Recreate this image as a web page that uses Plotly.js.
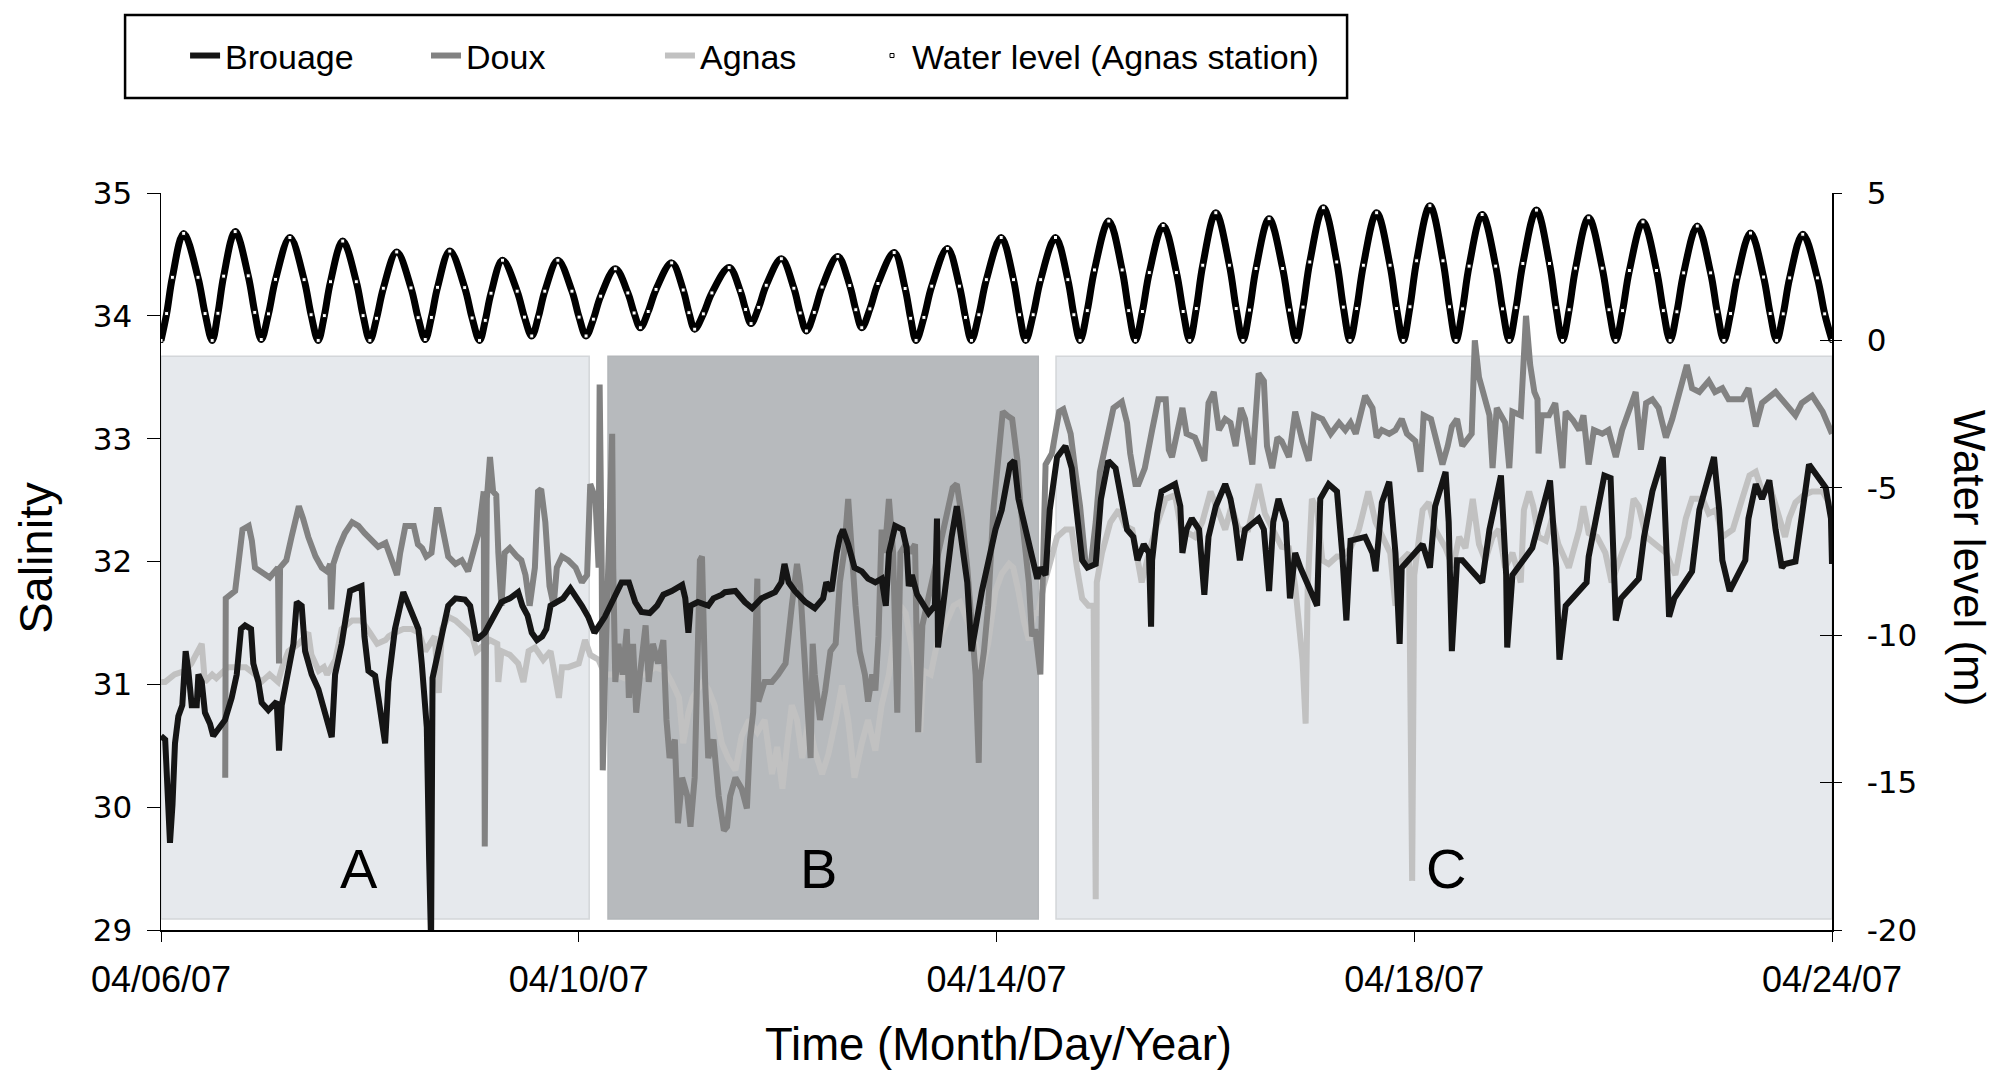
<!DOCTYPE html>
<html>
<head>
<meta charset="utf-8">
<script src="https://cdn.plot.ly/plotly-3.0.1.min.js"></script>
<style>
html,body{margin:0;padding:0;background:#fff;}
#chart{width:1998px;height:1071px;}
</style>
</head>
<body>
<div id="chart"></div>
<script>
// Salinity records, [days since 04/06/07, salinity]
const brouage = [
[0,30.58],[0.04,30.55],[0.086,29.71],[0.11,30.02],[0.134,30.52],[0.166,30.74],[0.204,30.83],[0.224,31.08],[0.236,31.27],[0.262,31.11],
[0.294,30.83],[0.342,30.83],[0.358,31.08],[0.39,31.02],[0.421,30.77],[0.469,30.68],[0.5,30.58],[0.613,30.71],[0.677,30.89],[0.725,31.08],
[0.766,31.45],[0.805,31.48],[0.862,31.45],[0.884,31.17],[0.932,31.02],[0.964,30.85],[1.028,30.79],[1.108,30.86],[1.13,30.46],[1.156,30.83],
[1.22,31.14],[1.268,31.33],[1.3,31.67],[1.347,31.64],[1.38,31.27],[1.443,31.08],[1.507,30.96],[1.571,30.77],[1.635,30.57],[1.667,31.08],
[1.73,31.33],[1.81,31.76],[1.92,31.8],[1.948,31.39],[1.986,31.11],[2.05,31.07],[2.146,30.52],[2.178,31.02],[2.24,31.45],[2.32,31.75],
[2.4,31.58],[2.465,31.45],[2.497,31.17],[2.545,30.65],[2.567,29.59],[2.586,28.9],[2.6,31.05],[2.69,31.41],[2.75,31.64],[2.82,31.7],
[2.91,31.69],[2.96,31.64],[2.99,31.52],[3.02,31.36],[3.1,31.42],[3.21,31.61],[3.26,31.67],[3.34,31.7],[3.42,31.75],[3.46,31.64],
[3.51,31.56],[3.55,31.42],[3.6,31.36],[3.65,31.39],[3.69,31.45],[3.73,31.64],[3.79,31.67],[3.85,31.7],[3.92,31.78],[3.97,31.72],
[4.03,31.64],[4.09,31.55],[4.15,31.42],[4.25,31.55],[4.36,31.73],[4.41,31.83],[4.48,31.83],[4.54,31.67],[4.6,31.59],[4.68,31.58],
[4.75,31.64],[4.81,31.73],[4.89,31.76],[4.99,31.81],[5.02,31.7],[5.05,31.42],[5.07,31.64],[5.14,31.67],[5.24,31.64],[5.29,31.7],
[5.37,31.73],[5.4,31.75],[5.5,31.76],[5.59,31.67],[5.66,31.62],[5.75,31.7],[5.88,31.75],[5.94,31.83],[5.97,31.98],[6.01,31.83],
[6.07,31.76],[6.17,31.67],[6.26,31.62],[6.34,31.7],[6.37,31.83],[6.42,31.76],[6.47,32.07],[6.5,32.2],[6.53,32.26],[6.58,32.14],
[6.64,31.95],[6.71,31.92],[6.77,31.86],[6.84,31.83],[6.9,31.86],[6.94,31.64],[6.97,32.07],[7.03,32.29],[7.1,32.26],[7.14,32.11],
[7.16,31.8],[7.19,31.89],[7.24,31.73],[7.29,31.67],[7.35,31.58],[7.41,31.64],[7.43,32.35],[7.44,31.3],[7.51,31.8],[7.57,32.2],
[7.62,32.45],[7.67,32.14],[7.72,31.83],[7.76,31.27],[7.86,31.76],[7.99,32.26],[8.05,32.42],[8.13,32.79],[8.17,32.82],[8.21,32.51],
[8.28,32.26],[8.34,32.07],[8.39,31.86],[8.42,31.95],[8.47,31.89],[8.51,32.42],[8.58,32.85],[8.66,32.94],[8.72,32.76],[8.77,32.39],
[8.82,32.01],[8.87,31.95],[8.95,31.98],[9.0,32.51],[9.07,32.82],[9.14,32.76],[9.2,32.51],[9.25,32.26],[9.31,32.2],[9.35,32.01],
[9.41,32.14],[9.46,32.07],[9.48,31.47],[9.49,32.01],[9.54,32.39],[9.58,32.57],[9.71,32.63],[9.76,32.45],[9.78,32.07],[9.82,32.26],
[9.87,32.35],[9.94,32.26],[9.99,31.73],[10.03,32.2],[10.1,32.45],[10.19,32.63],[10.24,32.51],[10.29,32.29],[10.33,32.01],[10.38,32.26],
[10.51,32.35],[10.56,32.26],[10.61,31.76],[10.65,32.32],[10.7,32.51],[10.77,32.32],[10.81,31.7],[10.86,32.07],[10.91,31.95],[11.07,31.64],
[11.1,32.51],[11.18,32.63],[11.26,32.57],[11.31,32.07],[11.35,31.52],[11.39,32.17],[11.53,32.2],[11.6,32.07],[11.63,31.92],[11.69,32.48],
[11.76,32.65],[11.82,32.07],[11.86,31.33],[11.88,31.95],[12.08,32.14],[12.15,31.95],[12.2,32.45],[12.3,32.73],[12.33,32.32],[12.36,31.27],
[12.41,32.01],[12.46,32.01],[12.65,31.83],[12.72,32.26],[12.83,32.7],[12.88,31.89],[12.89,31.3],[12.94,31.89],[13.13,32.11],[13.19,32.32],
[13.3,32.66],[13.36,31.95],[13.39,31.2],[13.45,31.64],[13.65,31.83],[13.67,32.04],[13.74,32.35],[13.82,32.7],[13.88,32.68],[13.91,31.76],
[13.93,31.52],[13.98,31.7],[14.15,31.86],[14.2,32.2],[14.28,32.57],[14.38,32.85],[14.41,32.26],[14.44,31.55],[14.49,31.7],[14.66,31.92],
[14.73,32.42],[14.87,32.85],[14.92,32.42],[14.95,32.01],[15.02,31.76],[15.17,32.01],[15.2,32.35],[15.27,32.63],[15.33,32.51],[15.4,32.66],
[15.46,32.26],[15.52,31.95],[15.55,31.98],[15.65,32.0],[15.78,32.79],[15.86,32.7],[15.94,32.6],[15.99,32.35],[16.0,31.98]
];

const doux = [
[0.615,30.24],[0.62,31.7],[0.71,31.76],[0.74,31.95],[0.78,32.26],[0.84,32.29],[0.87,32.17],[0.9,31.95],[0.96,31.92],[1.04,31.87],
[1.12,31.95],[1.13,31.17],[1.14,31.95],[1.2,32.01],[1.25,32.2],[1.32,32.45],[1.36,32.35],[1.41,32.2],[1.48,32.04],[1.54,31.95],
[1.59,31.92],[1.62,31.98],[1.63,31.61],[1.65,31.98],[1.7,32.11],[1.76,32.23],[1.83,32.32],[1.89,32.29],[1.95,32.23],[2.02,32.17],
[2.08,32.12],[2.15,32.15],[2.18,32.07],[2.23,31.95],[2.26,31.89],[2.29,32.07],[2.34,32.29],[2.42,32.29],[2.46,32.14],[2.5,32.11],
[2.54,32.04],[2.59,32.07],[2.64,32.42],[2.66,32.42],[2.7,32.23],[2.75,32.04],[2.82,31.98],[2.88,32.01],[2.94,31.92],[2.99,32.07],
[3.04,32.23],[3.09,32.57],[3.1,29.68],[3.12,32.51],[3.15,32.85],[3.18,32.57],[3.21,32.54],[3.23,32.07],[3.26,31.64],[3.29,32.07],
[3.34,32.11],[3.41,32.04],[3.45,32.01],[3.49,31.89],[3.53,31.64],[3.58,31.95],[3.61,32.57],[3.64,32.59],[3.68,32.32],[3.72,31.8],
[3.76,31.64],[3.79,31.95],[3.84,32.04],[3.9,32.01],[3.97,31.95],[4.03,31.83],[4.08,31.89],[4.11,32.63],[4.16,32.51],[4.19,31.95],
[4.2,33.44],[4.22,31.95],[4.23,30.3],[4.25,31.02],[4.28,31.9],[4.32,33.04],[4.33,31.95],[4.35,31.02],[4.38,31.33],[4.42,31.08],
[4.46,31.45],[4.48,30.89],[4.52,31.33],[4.55,30.77],[4.59,31.11],[4.64,31.48],[4.67,31.02],[4.71,31.33],[4.76,31.17],[4.81,31.36],
[4.84,30.71],[4.87,30.4],[4.92,30.55],[4.95,29.87],[4.99,30.24],[5.04,30.09],[5.07,29.84],[5.11,30.24],[5.16,32.01],[5.18,32.04],
[5.21,31.02],[5.24,30.4],[5.29,30.55],[5.34,30.09],[5.39,29.81],[5.42,29.84],[5.45,30.09],[5.5,30.24],[5.56,30.15],[5.61,29.99],
[5.64,30.55],[5.67,30.77],[5.71,31.86],[5.72,30.86],[5.78,31.02],[5.85,31.02],[5.91,31.08],[5.98,31.17],[6.04,31.64],[6.09,31.98],
[6.12,31.8],[6.15,31.33],[6.18,30.86],[6.22,30.4],[6.24,31.33],[6.26,31.08],[6.31,30.71],[6.36,30.95],[6.41,31.27],[6.46,31.33],
[6.5,31.83],[6.54,32.07],[6.58,32.51],[6.61,32.07],[6.65,31.64],[6.69,31.27],[6.74,31.08],[6.77,30.86],[6.81,31.08],[6.84,30.95],
[6.87,31.39],[6.9,32.26],[6.93,32.07],[6.97,32.51],[7.01,32.07],[7.05,30.77],[7.08,32.07],[7.13,32.14],[7.17,32.07],[7.22,32.14],
[7.25,30.61],[7.29,31.48],[7.33,31.64],[7.38,31.83],[7.45,32.07],[7.52,32.35],[7.58,32.6],[7.62,32.63],[7.67,32.35],[7.72,31.95],
[7.76,31.48],[7.8,31.08],[7.83,30.36],[7.84,31.02],[7.88,31.27],[7.92,31.64],[7.97,32.42],[8.02,32.88],[8.06,33.22],[8.1,33.19],
[8.15,33.16],[8.2,32.82],[8.23,32.45],[8.28,32.07],[8.31,31.83],[8.34,31.39],[8.37,31.45],[8.42,31.08],[8.45,32.07],[8.47,32.79],
[8.53,32.88],[8.6,33.22],[8.64,33.24],[8.71,33.04],[8.76,32.7],[8.8,32.45],[8.85,32.01],[8.9,31.95],[8.95,32.32],[8.99,32.73],
[9.06,33.01],[9.12,33.25],[9.2,33.3],[9.25,33.13],[9.28,32.88],[9.33,32.63],[9.36,32.63],[9.42,32.76],[9.49,33.07],[9.55,33.32],
[9.62,33.32],[9.65,32.91],[9.68,32.85],[9.73,33.04],[9.78,33.25],[9.82,33.04],[9.9,33.01],[9.99,32.82],[10.03,33.29],[10.08,33.38],
[10.13,33.07],[10.19,33.16],[10.24,33.13],[10.29,32.94],[10.34,33.25],[10.38,33.16],[10.45,32.79],[10.51,33.53],[10.56,33.47],[10.59,32.94],
[10.64,32.76],[10.69,33.01],[10.73,32.98],[10.8,32.85],[10.86,33.22],[10.93,32.98],[10.99,32.82],[11.04,33.19],[11.12,33.16],[11.2,33.04],
[11.28,33.13],[11.34,33.07],[11.39,33.13],[11.44,33.04],[11.53,33.35],[11.6,33.25],[11.64,33.01],[11.69,33.07],[11.76,33.04],[11.82,33.07],
[11.88,33.16],[11.93,33.04],[12.01,32.98],[12.06,32.73],[12.09,33.19],[12.16,33.16],[12.2,33.01],[12.27,32.79],[12.32,32.94],[12.36,33.1],
[12.41,33.16],[12.46,32.94],[12.55,33.04],[12.58,33.8],[12.62,33.5],[12.67,33.32],[12.72,33.19],[12.75,32.76],[12.79,33.25],[12.87,33.13],
[12.91,32.76],[12.94,33.22],[13.02,33.19],[13.07,34.0],[13.11,33.6],[13.15,33.38],[13.18,33.32],[13.19,32.88],[13.22,33.19],[13.29,33.19],
[13.35,33.29],[13.42,32.76],[13.45,33.22],[13.52,33.15],[13.58,33.07],[13.62,33.19],[13.67,32.79],[13.72,33.07],[13.8,33.04],[13.86,33.07],
[13.93,32.85],[13.99,33.07],[14.12,33.38],[14.17,32.91],[14.22,33.29],[14.28,33.32],[14.34,33.25],[14.41,33.01],[14.47,33.16],[14.61,33.6],
[14.66,33.41],[14.73,33.38],[14.82,33.47],[14.88,33.38],[14.95,33.41],[15.01,33.32],[15.14,33.32],[15.2,33.41],[15.27,33.1],[15.33,33.29],
[15.46,33.38],[15.52,33.32],[15.65,33.19],[15.71,33.29],[15.81,33.35],[15.91,33.22],[15.97,33.1],[16.0,33.04]
];

const agnas = [
[0,31.02],[0.04,31.02],[0.13,31.08],[0.23,31.11],[0.29,31.17],[0.39,31.33],[0.42,31.02],[0.49,31.08],[0.53,31.05],[0.64,31.14],
[0.71,31.14],[0.81,31.14],[0.9,31.08],[0.96,31.02],[1.04,31.08],[1.12,31.02],[1.16,31.14],[1.22,31.27],[1.32,31.33],[1.41,31.42],
[1.44,31.24],[1.51,31.11],[1.56,31.14],[1.59,31.08],[1.67,31.2],[1.73,31.45],[1.83,31.52],[1.92,31.52],[2.0,31.42],[2.07,31.33],
[2.15,31.36],[2.18,31.39],[2.24,31.42],[2.32,31.45],[2.4,31.45],[2.47,31.42],[2.53,31.27],[2.59,31.36],[2.62,31.39],[2.66,30.93],
[2.69,31.45],[2.75,31.55],[2.82,31.52],[2.91,31.45],[2.98,31.39],[3.02,31.27],[3.07,31.3],[3.15,31.36],[3.22,31.33],[3.23,31.02],
[3.26,31.27],[3.34,31.24],[3.42,31.17],[3.47,31.02],[3.52,31.27],[3.58,31.3],[3.66,31.2],[3.73,31.27],[3.77,31.08],[3.81,30.89],
[3.84,31.14],[3.9,31.14],[4.0,31.17],[4.06,31.36],[4.11,31.24],[4.19,31.2],[4.25,31.08],[4.35,31.08],[4.44,31.05],[4.54,31.08],
[4.64,31.08],[4.73,31.14],[4.83,31.11],[4.89,31.02],[4.96,30.89],[5.0,30.52],[5.05,30.77],[5.09,30.89],[5.14,30.96],[5.19,31.02],
[5.24,30.96],[5.3,30.83],[5.37,30.52],[5.43,30.4],[5.5,30.3],[5.56,30.58],[5.63,30.71],[5.71,30.61],[5.78,30.71],[5.85,30.27],
[5.9,30.49],[5.95,30.15],[6.0,30.55],[6.04,30.83],[6.09,30.71],[6.14,30.4],[6.2,30.71],[6.26,30.46],[6.33,30.27],[6.39,30.43],
[6.46,30.71],[6.52,30.99],[6.58,30.71],[6.64,30.24],[6.71,30.52],[6.77,30.71],[6.84,30.46],[6.9,30.83],[6.97,31.08],[7.03,31.45],
[7.08,31.64],[7.13,31.58],[7.18,31.33],[7.22,31.14],[7.27,30.61],[7.3,31.11],[7.37,31.08],[7.43,31.33],[7.51,31.48],[7.59,31.64],
[7.65,31.67],[7.72,31.52],[7.78,31.39],[7.86,31.11],[7.92,31.33],[7.99,31.76],[8.05,31.9],[8.12,31.98],[8.16,31.95],[8.21,31.76],
[8.26,31.52],[8.31,31.36],[8.36,31.58],[8.4,31.58],[8.45,31.8],[8.5,31.95],[8.58,32.2],[8.66,32.26],[8.72,32.26],[8.77,31.95],
[8.82,31.7],[8.88,31.64],[8.93,31.64],[8.95,29.25],[8.96,31.83],[9.01,32.07],[9.09,32.32],[9.17,32.42],[9.23,32.29],[9.3,32.26],
[9.36,31.95],[9.39,31.83],[9.46,32.07],[9.52,32.26],[9.62,32.51],[9.71,32.54],[9.78,32.2],[9.84,32.23],[9.9,32.2],[9.97,32.32],
[10.05,32.57],[10.11,32.45],[10.19,32.26],[10.25,32.45],[10.32,32.26],[10.41,32.26],[10.51,32.63],[10.57,32.39],[10.65,32.26],[10.73,32.12],
[10.8,32.11],[10.86,31.8],[10.93,31.2],[10.96,30.68],[10.98,31.8],[11.02,32.51],[11.07,32.42],[11.12,32.01],[11.18,31.98],[11.26,32.04],
[11.31,32.04],[11.39,32.11],[11.47,32.26],[11.56,32.57],[11.63,32.32],[11.69,32.2],[11.77,32.07],[11.82,31.64],[11.88,32.01],[11.95,32.07],
[11.98,29.4],[12.0,31.89],[12.08,32.42],[12.14,32.48],[12.2,32.26],[12.3,32.11],[12.37,31.95],[12.43,32.2],[12.49,32.11],[12.56,32.51],
[12.62,32.14],[12.68,32.01],[12.75,32.2],[12.81,32.26],[12.87,31.95],[12.94,32.07],[13.02,31.83],[13.05,32.42],[13.1,32.57],[13.14,32.45],
[13.19,32.2],[13.26,32.17],[13.32,32.35],[13.38,32.14],[13.48,31.95],[13.58,32.26],[13.62,32.45],[13.67,32.23],[13.75,32.2],[13.83,32.07],
[13.89,31.83],[13.99,32.07],[14.05,32.2],[14.1,32.51],[14.15,32.45],[14.22,32.2],[14.31,32.14],[14.41,32.07],[14.5,31.89],[14.55,32.14],
[14.6,32.35],[14.66,32.51],[14.76,32.51],[14.82,32.39],[14.89,32.42],[14.95,32.2],[15.05,32.26],[15.14,32.51],[15.21,32.7],[15.27,32.73],
[15.33,32.57],[15.4,32.63],[15.46,32.45],[15.55,32.2],[15.59,32.35],[15.65,32.48],[15.73,32.54],[15.81,32.57],[15.91,32.57],[15.97,32.48],
[16.0,32.35]
];

// Tide at the Agnas station, [days since 04/06/07, water level in m]
const waterLevel = [
[0,0],[0.054,0.91],[0.109,2.14],[0.217,3.63],[0.354,2.14],[0.422,0.91],
[0.49,0],[0.545,0.92],[0.6,2.18],[0.71,3.69],[0.835,2.19],[0.898,0.95],
[0.96,0.03],[1.029,0.9],[1.097,2.07],[1.234,3.49],[1.37,2.06],[1.437,0.87],
[1.505,0],[1.564,0.84],[1.623,1.99],[1.74,3.37],[1.87,1.99],[1.935,0.84],
[2.0,0],[2.064,0.75],[2.129,1.77],[2.257,3.0],[2.394,1.78],[2.462,0.77],
[2.53,0.03],[2.589,0.78],[2.648,1.8],[2.765,3.03],[2.908,1.79],[2.979,0.76],
[3.05,0],[3.105,0.68],[3.16,1.6],[3.27,2.72],[3.41,1.67],[3.48,0.79],
[3.55,0.15],[3.613,0.79],[3.675,1.67],[3.8,2.72],[3.935,1.67],[4.003,0.79],
[4.07,0.15],[4.14,0.72],[4.21,1.5],[4.35,2.43],[4.47,1.61],[4.53,0.93],
[4.59,0.43],[4.665,0.98],[4.74,1.73],[4.89,2.63],[5.0,1.71],[5.055,0.94],
[5.11,0.38],[5.193,0.9],[5.275,1.61],[5.44,2.47],[5.545,1.69],[5.598,1.05],
[5.65,0.57],[5.723,1.12],[5.795,1.87],[5.94,2.77],[6.06,1.77],[6.12,0.93],
[6.18,0.32],[6.255,0.95],[6.33,1.81],[6.48,2.85],[6.595,1.86],[6.653,1.04],
[6.71,0.43],[6.788,1.07],[6.865,1.93],[7.02,2.98],[7.125,1.76],[7.178,0.75],
[7.23,0],[7.305,0.78],[7.38,1.84],[7.53,3.12],[7.645,1.84],[7.703,0.78],
[7.76,0],[7.831,0.87],[7.903,2.06],[8.045,3.49],[8.163,2.06],[8.221,0.87],
[8.28,0],[8.351,0.87],[8.423,2.06],[8.565,3.49],[8.683,2.06],[8.741,0.87],
[8.8,0],[8.869,1.01],[8.938,2.39],[9.075,4.05],[9.203,2.39],[9.266,1.01],
[9.33,0],[9.397,0.98],[9.463,2.3],[9.596,3.9],[9.723,2.3],[9.787,0.98],
[9.85,0],[9.913,1.08],[9.975,2.55],[10.1,4.33],[10.23,2.55],[10.295,1.08],
[10.36,0],[10.423,1.03],[10.485,2.44],[10.61,4.13],[10.74,2.44],[10.805,1.03],
[10.87,0],[10.935,1.13],[11.0,2.66],[11.13,4.5],[11.258,2.66],[11.321,1.13],
[11.385,0],[11.449,1.08],[11.513,2.55],[11.64,4.33],[11.768,2.55],[11.831,1.08],
[11.895,0],[11.959,1.14],[12.023,2.7],[12.15,4.57],[12.275,2.7],[12.338,1.14],
[12.4,0],[12.463,1.07],[12.525,2.52],[12.65,4.27],[12.78,2.52],[12.845,1.07],
[12.91,0],[12.975,1.11],[13.04,2.61],[13.17,4.42],[13.295,2.61],[13.358,1.11],
[13.42,0],[13.483,1.04],[13.545,2.45],[13.67,4.16],[13.8,2.45],[13.865,1.04],
[13.93,0],[13.995,1.01],[14.06,2.37],[14.19,4.02],[14.32,2.37],[14.385,1.01],
[14.45,0],[14.515,0.97],[14.58,2.29],[14.71,3.88],[14.838,2.29],[14.901,0.97],
[14.965,0],[15.029,0.91],[15.093,2.15],[15.22,3.64],[15.345,2.15],[15.408,0.91],
[15.47,0],[15.533,0.9],[15.595,2.12],[15.72,3.6],[15.86,2.12],[15.93,0.9],
[16.0,0]
];

const dateTickDays = [0, 4, 8, 12, 16];
const dateTickLabels = ['04/06/07', '04/10/07', '04/14/07', '04/18/07', '04/24/07'];
const salinityTicks = [29, 30, 31, 32, 33, 34, 35];
const levelTicks = [-20, -15, -10, -5, 0, 5];
const levelTickLabels = ['-20', '-15', '-10', '-5', '0', '5'];

// Sampling periods A, B, C (days since 04/06/07)
const periodNames = ['A', 'B', 'C'];
const periodStart = [0, 4.28, 8.57];
const periodEnd = [4.1, 8.4, 16];
const periodLabelDay = [1.9, 6.3, 12.3];

const days = s => s.map(p => p[0]);
const vals = s => s.map(p => p[1]);

const FONT = 'Liberation Sans, Arial, sans-serif';
const TICKFONT = 'DejaVu Sans, sans-serif';
const lineW = 6;

const traces = [
  {type: 'scatter', mode: 'lines', name: 'Agnas', x: days(agnas), y: vals(agnas),
   line: {color: '#c1c1c1', width: lineW}, legend: 'legend3'},
  {type: 'scatter', mode: 'lines', name: 'Doux', x: days(doux), y: vals(doux),
   line: {color: '#828282', width: lineW}, legend: 'legend2'},
  {type: 'scatter', mode: 'lines', name: 'Brouage', x: days(brouage), y: vals(brouage),
   line: {color: '#151515', width: lineW}, legend: 'legend'},
  {type: 'scatter', mode: 'lines', name: 'Water level', x: days(waterLevel), y: vals(waterLevel),
   yaxis: 'y2', line: {color: '#000', width: 7, shape: 'spline', smoothing: 1},
   showlegend: false, hoverinfo: 'skip'},
  {type: 'scatter', mode: 'markers', name: 'Water level (Agnas station)', x: days(waterLevel), y: vals(waterLevel),
   yaxis: 'y3', marker: {symbol: 'square', size: 4, color: '#fff', line: {color: '#000', width: 1}},
   legend: 'legend4'}
];

const shapes = periodNames.map((n, i) => ({
  type: 'rect', xref: 'x', yref: 'y', layer: 'below',
  x0: periodStart[i], x1: periodEnd[i], y0: 29.09, y1: 33.67,
  fillcolor: n === 'B' ? '#b7babd' : '#e6e9ed',
  line: {color: n === 'B' ? '#b3b6b9' : '#d3d6d9', width: 1.5}
}));
// legend frame
shapes.push({type: 'rect', xref: 'paper', yref: 'paper',
  x0: -0.0215, x1: 0.7098, y0: 1.129, y1: 1.2415,
  line: {color: '#000', width: 2.5}, fillcolor: 'rgba(0,0,0,0)'});

const annotations = periodNames.map((n, i) => ({
  text: n, x: periodLabelDay[i], y: 29.5, xref: 'x', yref: 'y', showarrow: false,
  xanchor: 'center', yanchor: 'middle',
  font: {family: FONT, size: 56, color: '#000'}
}));
annotations.push(
  {text: 'Salinity', xref: 'paper', yref: 'paper', x: -0.0748, y: 0.505, textangle: -90,
   xanchor: 'center', yanchor: 'middle',
   showarrow: false, font: {family: FONT, size: 47, color: '#000'}},
  {text: 'Water level (m)', xref: 'paper', yref: 'paper', x: 1.082, y: 0.505, textangle: 90,
   xanchor: 'center', yanchor: 'middle',
   showarrow: false, font: {family: FONT, size: 44, color: '#000'}},
  {text: 'Time (Month/Day/Year)', xref: 'paper', yref: 'paper', x: 0.501, y: -0.156,
   xanchor: 'center', yanchor: 'middle',
   showarrow: false, font: {family: FONT, size: 45.5, color: '#000'}}
);

// one legend per entry so each entry sits at its own place in the frame
const legendBase = (x) => ({
  orientation: 'h', x: x, y: 1.186, xanchor: 'left', yanchor: 'middle',
  bgcolor: 'rgba(0,0,0,0)', borderwidth: 0,
  font: {family: FONT, size: 34, color: '#000'}
});

const layout = {
  width: 1998, height: 1071,
  margin: {l: 161, r: 166, t: 193, b: 141},
  paper_bgcolor: '#fff', plot_bgcolor: 'rgba(0,0,0,0)',
  showlegend: true,
  xaxis: {range: [0, 16], tickmode: 'array', tickvals: dateTickDays, ticktext: dateTickLabels,
          showline: true, linecolor: '#000', linewidth: 1.5, ticks: 'outside', ticklen: 10,
          tickcolor: '#000', tickwidth: 1, showgrid: false, zeroline: false,
          ticklabelstandoff: 7,
          tickfont: {family: FONT, size: 36, color: '#000'}},
  yaxis: {range: [29, 35], tickmode: 'array', tickvals: salinityTicks,
          showline: true, linecolor: '#000', linewidth: 1.5, ticks: 'outside', ticklen: 13,
          tickcolor: '#000', tickwidth: 1, showgrid: false, zeroline: false,
          ticklabelstandoff: 8,
          tickfont: {family: TICKFONT, size: 31, color: '#000'}},
  yaxis2: {range: [-20, 5], overlaying: 'y', side: 'right', anchor: 'x',
           tickmode: 'array', tickvals: levelTicks, ticktext: levelTickLabels,
           showline: true, linecolor: '#000', linewidth: 1.5, ticks: 'outside', ticklen: 8,
           tickcolor: '#000', tickwidth: 1, showgrid: false, zeroline: false,
           ticklabelstandoff: 19,
           tickfont: {family: TICKFONT, size: 31, color: '#000'}},
  yaxis3: {range: [-20, 5], overlaying: 'y', side: 'right', anchor: 'x',
           tickmode: 'array', tickvals: levelTicks, showticklabels: false,
           showline: false, ticks: 'inside', ticklen: 12, tickcolor: '#000', tickwidth: 1,
           showgrid: false, zeroline: false},
  legend: legendBase(0.0144),
  legend2: legendBase(0.1586),
  legend3: legendBase(0.2986),
  legend4: legendBase(0.4255),
  shapes: shapes,
  annotations: annotations
};

Plotly.newPlot('chart', traces, layout, {displayModeBar: false, staticPlot: true});
</script>
</body>
</html>
